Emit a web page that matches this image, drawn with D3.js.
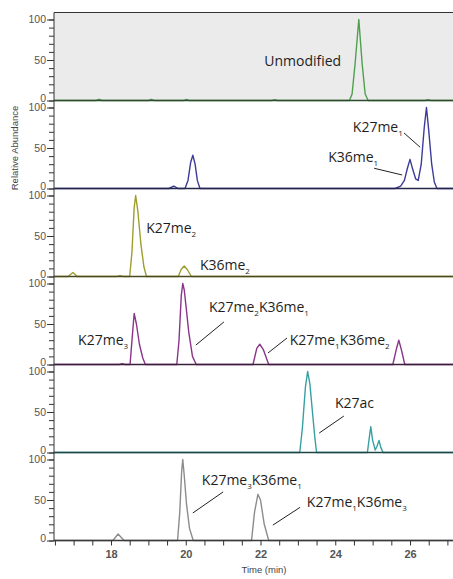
<!DOCTYPE html>
<html><head><meta charset="utf-8">
<script src="https://cdn.jsdelivr.net/npm/d3@7"></script>
<style>body{margin:0;background:#fff}</style>
</head><body>
<svg id="c" width="453" height="579"></svg>
<script>
// ---------- data ----------
const xTickLabels = [18, 20, 22, 24, 26];
const yTickLabels = [0, 50, 100];
const panelNames = ["Unmodified", "K27me1", "K27me2", "K27me3", "K27ac", "K27me3K36me1"];

const unmodT = [16.48, 17.6, 17.68, 17.76, 19.0, 19.08, 19.16, 19.95, 20.02, 20.09, 22.3, 22.38, 22.46, 24.38, 24.45, 24.53, 24.63, 24.72, 24.80, 24.88, 26.4, 26.48, 26.56, 27.15];
const unmodV = [0, 0, 1.5, 0, 0, 1.5, 0, 0, 1.2, 0, 0, 1, 0, 0, 8, 45, 100, 45, 8, 0, 0, 1, 0, 0];

const me1T = [16.48, 19.55, 19.68, 19.8, 19.98, 20.06, 20.13, 20.19, 20.25, 20.31, 20.38, 25.6, 25.75, 25.85, 25.93, 26.0, 26.07, 26.15, 26.22, 26.3, 26.38, 26.44, 26.5, 26.58, 26.65, 26.72, 27.15];
const me1V = [0, 0, 3, 0, 0, 10, 32, 41, 30, 10, 0, 0, 3, 10, 25, 36, 24, 12, 10, 30, 75, 100, 72, 30, 8, 0, 0];

const me2T = [16.48, 16.85, 16.98, 17.1, 18.15, 18.24, 18.33, 18.5, 18.56, 18.62, 18.66, 18.72, 18.8, 18.88, 18.95, 19.8, 19.88, 19.96, 20.05, 20.15, 27.15];
const me2V = [0, 0, 5, 0, 0, 1, 0, 0, 30, 85, 100, 80, 40, 12, 0, 0, 9, 13, 8, 0, 0];

const me3T = [16.48, 18.22, 18.3, 18.38, 18.51, 18.57, 18.62, 18.68, 18.76, 18.85, 18.92, 19.76, 19.82, 19.88, 19.92, 19.96, 20.0, 20.08, 20.18, 20.28, 21.8, 21.9, 21.98, 22.08, 22.22, 25.54, 25.64, 25.7, 25.77, 25.86, 27.15];
const me3V = [0, 0, 1, 0, 0, 35, 63, 50, 25, 8, 0, 0, 30, 85, 100, 92, 75, 40, 10, 0, 0, 20, 25, 18, 0, 0, 20, 30, 18, 0, 0];

const acT = [16.48, 23.05, 23.12, 23.2, 23.26, 23.32, 23.38, 23.45, 23.5, 24.86, 24.91, 24.95, 25.0, 25.07, 25.12, 25.17, 25.22, 25.28, 27.15];
const acV = [0, 0, 30, 80, 100, 85, 55, 20, 0, 0, 18, 32, 15, 3, 8, 15, 6, 0, 0];

const me3me1T = [16.48, 18.05, 18.19, 18.35, 19.78, 19.84, 19.89, 19.92, 19.96, 20.02, 20.1, 20.2, 21.76, 21.84, 21.93, 22.0, 22.1, 22.22, 27.15];
const me3me1V = [0, 0, 8, 0, 0, 35, 85, 100, 80, 45, 15, 0, 0, 35, 57, 50, 20, 0, 0];

const seriesT = [unmodT, me1T, me2T, me3T, acT, me3me1T];
const seriesV = [unmodV, me1V, me2V, me3V, acV, me3me1V];
const lineColors = ["#4f9f4f", "#3c3c98", "#9e9e30", "#8a348a", "#38a0a0", "#8c8c8c"];
const baseColors = ["#2f4a2f", "#26264a", "#4a4a22", "#3a1f3a", "#1f4444", "#3a3a3a"];

// annotations: panel, label parts [text, subscript], label anchor (t,v), leader (t1,v1,t2,v2)
const annPanel = [0, 1, 1, 2, 2, 3, 3, 3, 4, 5, 5];
const annText = [
  [["Unmodified", ""]],
  [["K27me", "1"]],
  [["K36me", "1"]],
  [["K27me", "2"]],
  [["K36me", "2"]],
  [["K27me", "3"]],
  [["K27me", "2"], ["K36me", "1"]],
  [["K27me", "1"], ["K36me", "2"]],
  [["K27ac", ""]],
  [["K27me", "3"], ["K36me", "1"]],
  [["K27me", "1"], ["K36me", "3"]]
];
const annT = [22.1, 24.47, 23.81, 18.94, 20.38, 17.12, 20.62, 22.78, 23.99, 20.43, 23.24];
const annV = [49, 76, 39, 60, 14, 30, 71, 30, 61, 75, 47.5];
const leaders = [null, [25.84, 68.5, 26.27, 51], [25.04, 25, 25.79, 16.7], null, null, null,
  [20.27, 24, 21.02, 52.5], [22.2, 14.2, 22.71, 32.7], [23.57, 24, 24.23, 45],
  [20.19, 34, 21.0, 60], [22.33, 19, 23.06, 41]];

// ---------- layout ----------
const svg = d3.select("#c");
const L = 54, R = 453, top0 = 12.5, ph = 88;
const x = d3.scaleLinear().domain([16.475, 27.15]).range([L, R]);

const font = "'Open Sans', 'DejaVu Sans', sans-serif";
const tickFont = "'Liberation Sans', Arial, sans-serif";

// top panel background
svg.append("rect").attr("x", L).attr("y", top0).attr("width", R - L).attr("height", ph).attr("fill", "#ebebeb");
svg.append("line").attr("x1", L).attr("x2", R).attr("y1", top0).attr("y2", top0).attr("stroke", "#333").attr("stroke-width", 1.2);

panelNames.forEach((name, i) => {
  const bottom = top0 + ph * (i + 1);
  const y = d3.scaleLinear().domain([0, 100]).range([bottom, bottom - 81]);
  const g = svg.append("g");

  // trace
  const pts = seriesT[i].map((t, k) => [t, seriesV[i][k]]);
  const line = d3.line().x(d => x(d[0])).y(d => y(d[1]));
  g.append("path").datum(pts).attr("d", line).attr("fill", "none")
    .attr("stroke", lineColors[i]).attr("stroke-width", 1.4).attr("stroke-linejoin", "round");

  // baseline
  g.append("line").attr("x1", L).attr("x2", R).attr("y1", bottom).attr("y2", bottom)
    .attr("stroke", baseColors[i]).attr("stroke-width", 1.6);

  // left axis line
  g.append("line").attr("x1", L).attr("x2", L).attr("y1", bottom).attr("y2", bottom - ph)
    .attr("stroke", "#333").attr("stroke-width", 1);

  // minor ticks
  const minor = g.append("g").attr("transform", `translate(${L},0)`)
    .call(d3.axisLeft(y).tickValues(d3.range(0, 101, 10)).tickSize(5).tickFormat(""));
  minor.select(".domain").remove();
  minor.selectAll("text").remove();
  minor.selectAll("line").attr("stroke", "#333");
  // major ticks + labels
  const major = g.append("g").attr("transform", `translate(${L},0)`)
    .call(d3.axisLeft(y).tickValues(yTickLabels).tickSize(7).tickPadding(1));
  major.select(".domain").remove();
  major.selectAll("line").attr("stroke", "#333");
  major.selectAll("text").attr("font-family", tickFont).attr("font-size", 10.5).attr("fill", "#555")
    .attr("dy", d => d === 0 ? "0.05em" : "0.32em");

  // annotations
  annPanel.forEach((p, k) => {
    if (p !== i) return;
    const txt = g.append("text").attr("x", x(annT[k])).attr("y", y(annV[k]))
      .attr("dy", "0.35em").attr("font-family", font).attr("font-size", 14).attr("fill", "#1e1e1e");
    annText[k].forEach(part => {
      txt.append("tspan").text(part[0]);
      if (part[1]) {
        txt.append("tspan").text(part[1]).attr("font-size", 8).attr("baseline-shift", -4);
      }
    });
    const ld = leaders[k];
    if (ld) {
      g.append("line").attr("x1", x(ld[0])).attr("y1", y(ld[1])).attr("x2", x(ld[2])).attr("y2", y(ld[3]))
        .attr("stroke", "#222").attr("stroke-width", 1);
    }
  });

  if (i === panelNames.length - 1) {
    const xa = svg.append("g").attr("transform", `translate(0,${bottom})`)
      .call(d3.axisBottom(x).tickValues(d3.range(16.5, 27.01, 0.5)).tickSize(5)
        .tickFormat(d => xTickLabels.includes(d) ? d : ""));
    xa.select(".domain").remove();
    xa.selectAll("text").filter(function () { return this.textContent === ""; }).remove();
    xa.selectAll("line").attr("stroke", "#333");
    xa.selectAll("text").attr("font-family", tickFont).attr("font-size", 11).attr("fill", "#555")
      .attr("font-weight", "bold").attr("dy", "0.9em");
  }
});

svg.append("text").attr("transform", "translate(15,148) rotate(-90)").attr("text-anchor", "middle")
  .attr("dy", "0.35em").attr("font-family", tickFont).attr("font-size", 9.5).attr("fill", "#444")
  .text("Relative Abundance");
svg.append("text").attr("x", 264).attr("y", 570).attr("text-anchor", "middle").attr("dy", "0.35em")
  .attr("font-family", tickFont).attr("font-size", 9.5).attr("fill", "#444").text("Time (min)");
</script>
</body></html>
